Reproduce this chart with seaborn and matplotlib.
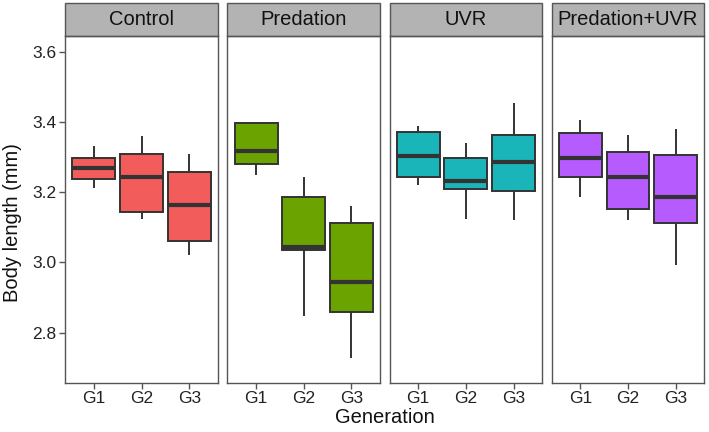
import numpy as np
import pandas as pd
import matplotlib.pyplot as plt
import seaborn as sns
from matplotlib.patches import Rectangle

treatments = ["Control", "Predation", "UVR", "Predation+UVR"]
generations = ["G1", "G2", "G3"]
colors = ["#F25C5A", "#6BA300", "#19B5B8", "#B65CFF"]

# five-number summary per generation: min, Q1, median, Q3, max
control = [[3.213, 3.238, 3.270, 3.297, 3.330],
           [3.123, 3.143, 3.242, 3.308, 3.360],
           [3.020, 3.061, 3.164, 3.256, 3.308]]
predation = [[3.249, 3.280, 3.318, 3.396, 3.396],
             [2.848, 3.036, 3.043, 3.185, 3.242],
             [2.729, 2.860, 2.945, 3.113, 3.161]]
uvr = [[3.220, 3.244, 3.304, 3.371, 3.387],
       [3.123, 3.209, 3.231, 3.298, 3.341],
       [3.121, 3.202, 3.287, 3.362, 3.453]]
pred_uvr = [[3.187, 3.244, 3.298, 3.368, 3.406],
            [3.121, 3.152, 3.242, 3.313, 3.362],
            [2.992, 3.113, 3.185, 3.306, 3.379]]

summaries = [control, predation, uvr, pred_uvr]

rows = []
for trt, summ in zip(treatments, summaries):
    for gen, vals in zip(generations, summ):
        for v in vals:
            rows.append({"Treatment": trt, "Generation": gen, "Length": v})
df = pd.DataFrame(rows)

sns.set_style("white")
plt.rcParams["font.family"] = ["Liberation Sans", "DejaVu Sans"]

fig, axes = plt.subplots(1, 4, figsize=(7.09, 4.32), dpi=100, sharey=True)
fig.subplots_adjust(left=0.0921, right=0.9934, bottom=0.1141, top=0.9174, wspace=0.062)

edge = "#333333"
frame = "#555555"

for i, (ax, trt) in enumerate(zip(axes, treatments)):
    sub = df[df["Treatment"] == trt]
    sns.boxplot(data=sub, x="Generation", y="Length", order=generations,
                color=colors[i], saturation=1, width=0.9, whis=(0, 100),
                linecolor=edge, linewidth=1.4, fliersize=0, showcaps=False,
                medianprops={"linewidth": 3.0, "color": edge}, ax=ax)
    ax.set_xlim(-0.6, 2.6)
    ax.set_ylim(2.658, 3.645)
    ax.set_xlabel("")
    ax.set_ylabel("")
    for s in ax.spines.values():
        s.set_visible(True)
        s.set_color(frame)
        s.set_linewidth(1.0)
    ax.tick_params(axis="x", length=4, width=1.0, color=frame, pad=2,
                   labelsize=12.5, labelcolor="#222222", bottom=True)
    if i == 0:
        ax.set_yticks([2.8, 3.0, 3.2, 3.4, 3.6])
        ax.set_yticklabels(["2.8", "3.0", "3.2", "3.4", "3.6"])
        ax.tick_params(axis="y", length=4.5, width=1.0, color=frame, pad=2,
                       labelsize=12.5, labelcolor="#222222", left=True)
    else:
        ax.tick_params(axis="y", left=False, labelleft=False)

    # facet strip
    strip = Rectangle((0, 1.0), 1, 0.0934, transform=ax.transAxes,
                      facecolor="#B3B3B3", edgecolor=frame, linewidth=1.0,
                      clip_on=False)
    ax.add_patch(strip)
    ax.text(0.5, 1.0 + 0.0934 / 2, trt, transform=ax.transAxes,
            ha="center", va="center", fontsize=14.5, color="#111111")

fig.text(0.017, (1 - 0.1141 + 1 - 0.9174) / 2, "Body length (mm)",
         rotation=90, ha="center", va="center", fontsize=14.5, color="#111111")
fig.text((65.3 + 704.3) / 2 / 709, 0.033, "Generation",
         ha="center", va="center", fontsize=14.5, color="#111111")

fig.savefig("out.png", dpi=100)
